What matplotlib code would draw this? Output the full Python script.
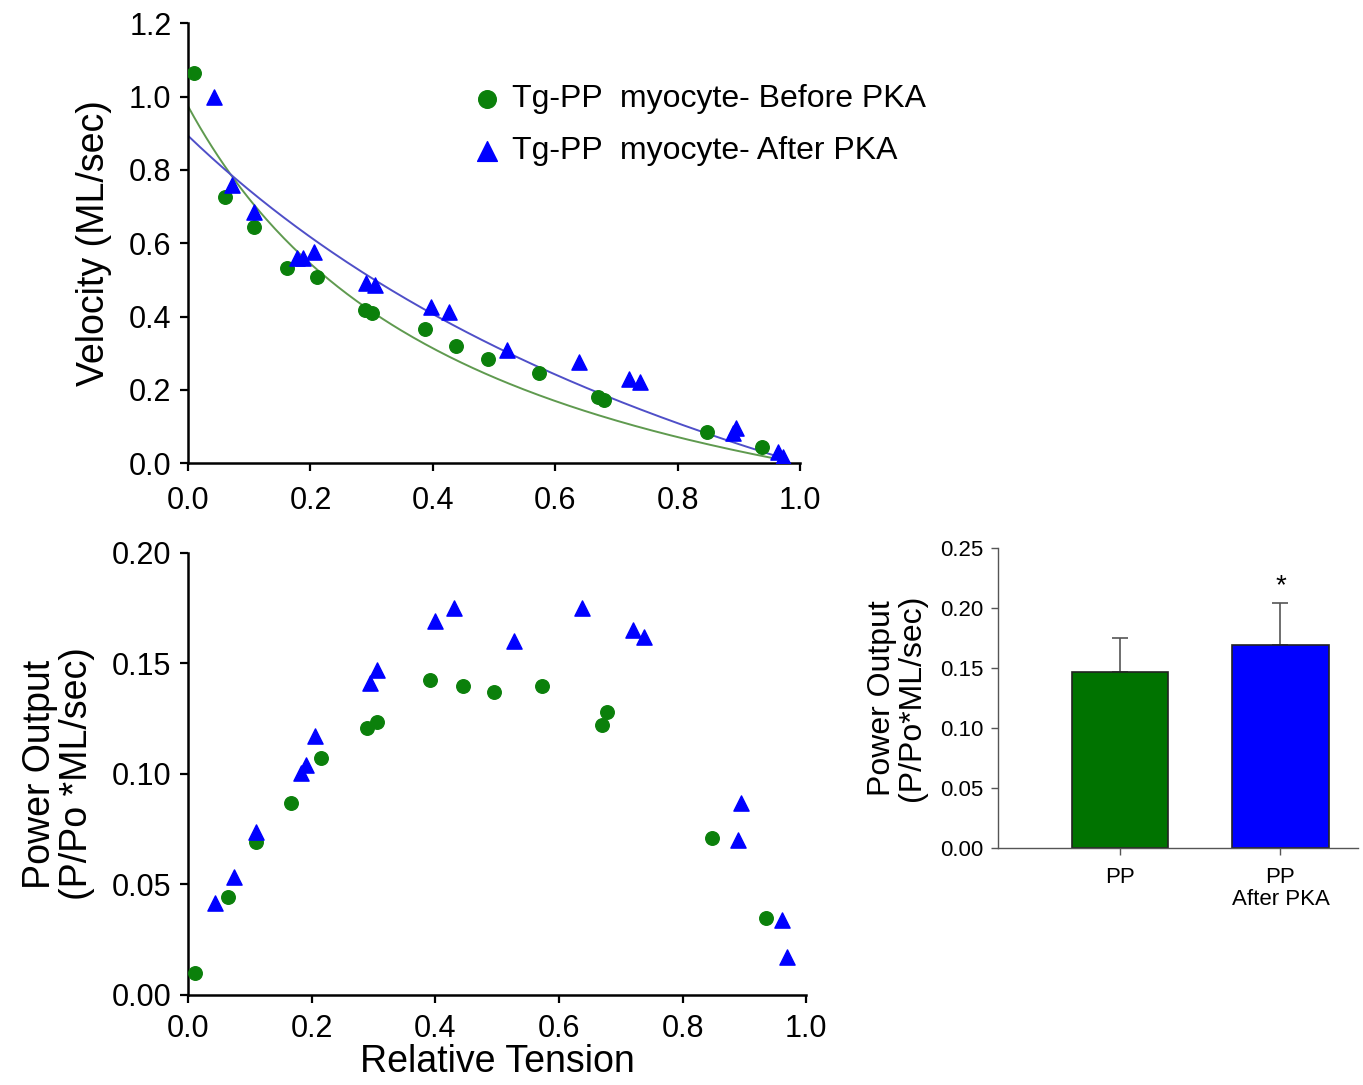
import numpy as np
import matplotlib
matplotlib.use('Agg')
import matplotlib.pyplot as plt

plt.rcParams['font.family'] = ['Liberation Sans', 'DejaVu Sans']

# velocity vs relative tension
tension_before = [0.01, 0.061, 0.107, 0.162, 0.21, 0.289, 0.30, 0.387, 0.438, 0.49, 0.574, 0.67, 0.68, 0.848, 0.938]
velocity_before = [1.064, 0.725, 0.644, 0.532, 0.507, 0.417, 0.409, 0.365, 0.319, 0.284, 0.245, 0.18, 0.173, 0.085, 0.044]
tension_after = [0.042, 0.071, 0.108, 0.178, 0.188, 0.205, 0.29, 0.305, 0.397, 0.426, 0.521, 0.639, 0.721, 0.739, 0.89, 0.895, 0.964, 0.972]
velocity_after = [0.998, 0.758, 0.685, 0.56, 0.56, 0.575, 0.491, 0.485, 0.425, 0.412, 0.308, 0.275, 0.229, 0.221, 0.082, 0.095, 0.03, 0.016]

# power output vs relative tension
ptension_before = [0.011, 0.064, 0.11, 0.167, 0.215, 0.29, 0.305, 0.392, 0.444, 0.495, 0.573, 0.67, 0.677, 0.847, 0.935]
power_before = [0.010, 0.0443, 0.069, 0.0869, 0.107, 0.121, 0.1235, 0.1425, 0.140, 0.137, 0.140, 0.122, 0.128, 0.071, 0.035]
ptension_after = [0.044, 0.074, 0.11, 0.182, 0.19, 0.206, 0.294, 0.306, 0.40, 0.43, 0.528, 0.638, 0.719, 0.737, 0.89, 0.894, 0.961, 0.969]
power_after = [0.0416, 0.0534, 0.0738, 0.1005, 0.104, 0.117, 0.141, 0.147, 0.169, 0.175, 0.16, 0.175, 0.165, 0.162, 0.070, 0.087, 0.034, 0.017]

# bar summary
groups = ['PP', 'PP\nAfter PKA']
mean_power = [0.147, 0.169]
sem_power = [0.028, 0.035]

green = '#0b800b'
bar_green = '#007300'
blue = '#0000ff'


def hill_fit(p, v):
    p = np.asarray(p)
    v = np.asarray(v)
    best = None
    for a in np.linspace(0.05, 3.0, 600):
        f = (1 - p) / (p + a)
        b = np.sum(f * v) / np.sum(f * f)
        err = np.sum((b * f - v) ** 2)
        if best is None or err < best[0]:
            best = (err, a, b)
    return best[1], best[2]


fig = plt.figure(figsize=(13.63, 10.85), dpi=100)

# top panel
ax1 = fig.add_axes([0.138, 0.573, 0.449, 0.4055])
pp = np.linspace(0, 0.975, 200)
a, b = hill_fit(tension_before, velocity_before)
ax1.plot(pp, b * (1 - pp) / (pp + a), color='#5f9a4f', lw=1.4, zorder=2)
a, b = hill_fit(tension_after, velocity_after)
ax1.plot(pp, b * (1 - pp) / (pp + a), color='#4f4fc8', lw=1.4, zorder=2)
ax1.scatter(tension_before, velocity_before, s=95, color=green, marker='o', zorder=3,
            label='Tg-PP  myocyte- Before PKA')
ax1.scatter(tension_after, velocity_after, s=120, color=blue, marker='^', zorder=3,
            label='Tg-PP  myocyte- After PKA')
ax1.set_xlim(0, 1.0)
ax1.set_ylim(0, 1.2)
ax1.set_xticks(np.arange(0, 1.01, 0.2))
ax1.set_yticks(np.arange(0, 1.21, 0.2))
ax1.xaxis.set_major_formatter(matplotlib.ticker.FormatStrFormatter('%.1f'))
ax1.yaxis.set_major_formatter(matplotlib.ticker.FormatStrFormatter('%.1f'))
ax1.set_ylabel('Velocity (ML/sec)', fontsize=27, labelpad=12)
ax1.legend(loc='upper left', bbox_to_anchor=(0.436, 0.891), frameon=False, fontsize=23,
           handlelength=1.2, handletextpad=0.2, labelspacing=0.7, borderaxespad=0,
           markerscale=1.3)

# bottom panel
ax2 = fig.add_axes([0.138, 0.083, 0.4535, 0.4074])
ax2.scatter(ptension_before, power_before, s=95, color=green, marker='o', zorder=3)
ax2.scatter(ptension_after, power_after, s=120, color=blue, marker='^', zorder=3)
ax2.set_xlim(0, 1.0)
ax2.set_ylim(0, 0.2)
ax2.set_xticks(np.arange(0, 1.01, 0.2))
ax2.set_yticks(np.arange(0, 0.201, 0.05))
ax2.xaxis.set_major_formatter(matplotlib.ticker.FormatStrFormatter('%.1f'))
ax2.yaxis.set_major_formatter(matplotlib.ticker.FormatStrFormatter('%.2f'))
ax2.set_xlabel('Relative Tension', fontsize=27, labelpad=0)
ax2.set_ylabel('Power Output\n(P/Po *ML/sec)', fontsize=27, labelpad=12, linespacing=1.05)

for ax in (ax1, ax2):
    for side in ('top', 'right'):
        ax.spines[side].set_visible(False)
    for side in ('left', 'bottom'):
        ax.spines[side].set_linewidth(1.8)
    ax.tick_params(direction='out', length=6, width=1.6, labelsize=22, pad=6)
ax1.tick_params(axis='x', pad=10)
ax2.tick_params(axis='x', pad=8)

# bar panel
ax3 = fig.add_axes([0.732, 0.2184, 0.264, 0.2765])
xpos = np.arange(len(groups))
ax3.bar(xpos, mean_power, width=0.6, color=[bar_green, blue],
        edgecolor='#222222', linewidth=1.2, zorder=2)
ax3.errorbar(xpos, mean_power, yerr=[[0, 0], sem_power], fmt='none', ecolor='#555555',
             elinewidth=1.2, capsize=6, capthick=1.2, zorder=1)
ax3.text(xpos[1], mean_power[1] + sem_power[1] + 0.003, '*', ha='center', va='bottom', fontsize=20)
ax3.set_xlim(-0.76, 1.48)
ax3.set_ylim(0, 0.25)
ax3.set_yticks(np.arange(0, 0.251, 0.05))
ax3.yaxis.set_major_formatter(matplotlib.ticker.FormatStrFormatter('%.2f'))
ax3.set_xticks(xpos)
ax3.set_xticklabels(groups, fontsize=18, linespacing=1.05)
ax3.set_ylabel('Power Output\n(P/Po*ML/sec)', fontsize=23, labelpad=10, linespacing=1.0)
for side in ('top', 'right'):
    ax3.spines[side].set_visible(False)
for side in ('left', 'bottom'):
    ax3.spines[side].set_linewidth(1.0)
    ax3.spines[side].set_color('#555555')
ax3.tick_params(direction='out', length=5, width=1.0, color='#555555', labelsize=16, pad=5)
ax3.tick_params(axis='x', pad=9)

fig.savefig('out.png', dpi=100)
